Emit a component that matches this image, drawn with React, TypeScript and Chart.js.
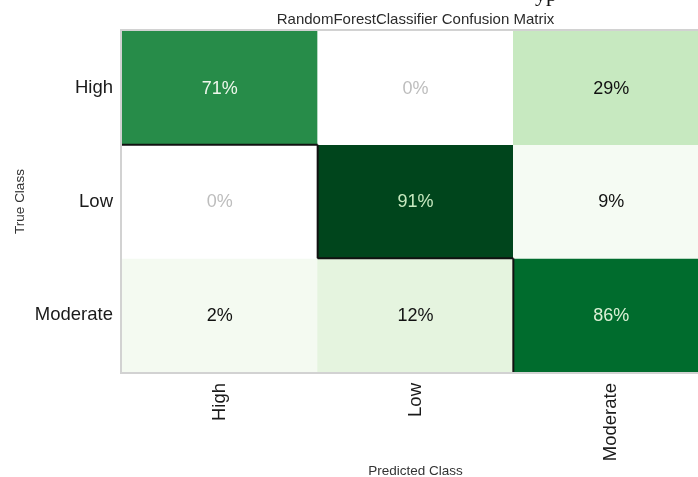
import { useEffect, useRef } from "react";
import { Chart, registerables } from "chart.js";

Chart.register(...registerables);

// ---- data ----
const classLabels = ["High", "Low", "Moderate"];
const highRow = [71, 0, 29];
const lowRow = [0, 91, 9];
const moderateRow = [2, 12, 86];
const rows = [highRow, lowRow, moderateRow];
const titleText = "RandomForestClassifier Confusion Matrix";
const xTitleText = "Predicted Class";
const yTitleText = "True Class";
const fragmentText = "yp";

// ---- styles ----
const cellColors = [
  ["#278c49", "#ffffff", "#c7e9c0"],
  ["#ffffff", "#00451c", "#f5fbf3"],
  ["#f4faf1", "#e5f4df", "#006c2d"],
];
const FONT = "'Liberation Sans', Arial, Helvetica, sans-serif";

function textColor(v: number): string {
  if (v === 0) return "#bdbdbd";
  if (v >= 88) return "#c7e9c0";
  if (v >= 80) return "#dcf1d6";
  if (v >= 60) return "#eef7ec";
  return "#111111";
}

const cellPlugin = {
  id: "cellText",
  afterDatasetsDraw(chart: any) {
    const ctx = chart.ctx;
    const area = chart.chartArea;
    ctx.save();
    // grey frame around the matrix
    ctx.strokeStyle = "#d2d2d2";
    ctx.lineWidth = 2;
    ctx.strokeRect(area.left - 1, area.top - 1, area.right - area.left + 2, area.bottom - area.top + 2);

    const n = classLabels.length;
    chart.data.datasets.forEach((_ds: any, r: number) => {
      const meta = chart.getDatasetMeta(r);
      meta.data.forEach((el: any, c: number) => {
        const { x, y, base, width } = el.getProps(["x", "y", "base", "width"], true);
        const top = Math.min(y, base);
        const bottom = Math.max(y, base);
        const left = x - width / 2;
        const right = x + width / 2;
        const cy = (top + bottom) / 2;
        const v = rows[r][c];
        if (r === c) {
          ctx.strokeStyle = "#111111";
          ctx.lineWidth = 2;
          ctx.beginPath();
          if (c > 0) {
            ctx.moveTo(left, top);
            ctx.lineTo(left, bottom);
          }
          if (r < n - 1) {
            ctx.moveTo(left, bottom);
            ctx.lineTo(right, bottom);
          }
          ctx.stroke();
        }
        ctx.fillStyle = textColor(v);
        ctx.font = `18px ${FONT}`;
        ctx.textAlign = "center";
        ctx.textBaseline = "middle";
        ctx.fillText(`${v}%`, x, cy + 1);
      });
    });
    ctx.restore();
  },
  afterDraw(chart: any) {
    const ctx = chart.ctx;
    ctx.save();
    ctx.fillStyle = "#111";
    ctx.font = `22px 'Liberation Serif', 'Times New Roman', serif`;
    ctx.textAlign = "left";
    ctx.textBaseline = "alphabetic";
    ctx.fillText(fragmentText, 535, 1);
    ctx.restore();
  },
};

export default function App() {
  const ref = useRef<HTMLCanvasElement | null>(null);

  useEffect(() => {
    if (!ref.current) return;
    const datasets = rows.map((row, r) => ({
      label: classLabels[r],
      data: row.map(() => [r, r + 1]),
      backgroundColor: cellColors[r],
      borderWidth: 0,
      barPercentage: 1,
      categoryPercentage: 1,
      grouped: false,
    }));

    const chart = new Chart(ref.current, {
      type: "bar",
      data: { labels: classLabels, datasets: datasets as any },
      plugins: [cellPlugin],
      options: {
        animation: false,
        responsive: false,
        devicePixelRatio: 1,
        layout: { padding: { left: 0, right: 11, top: 0, bottom: 0 } },
        plugins: {
          legend: { display: false },
          tooltip: { enabled: false },
          title: {
            display: true,
            text: titleText,
            fullSize: false,
            color: "#2b2b2b",
            font: { family: FONT, size: 15, weight: "normal" },
            padding: { top: 11, bottom: 2 },
          },
        },
        scales: {
          x: {
            type: "category",
            offset: true,
            grid: { display: false, drawTicks: false },
            border: { display: false },
            ticks: {
              autoSkip: false,
              minRotation: 90,
              maxRotation: 90,
              padding: 11,
              color: "#1a1a1a",
              font: { family: FONT, size: 18.5 },
            },
            title: {
              display: true,
              text: xTitleText,
              color: "#333333",
              font: { family: FONT, size: 13.5 },
              padding: { top: 0, bottom: -2 },
            },
            afterFit: (s: any) => {
              s.height = 105;
            },
          },
          y: {
            type: "linear",
            min: 0,
            max: classLabels.length,
            reverse: true,
            afterBuildTicks: (s: any) => {
              s.ticks = classLabels.map((_, i) => ({ value: i + 0.5 }));
            },
            grid: { display: false, drawTicks: false },
            border: { display: false },
            ticks: {
              padding: 9,
              color: "#1a1a1a",
              font: { family: FONT, size: 18.5 },
              callback: (v: any) => classLabels[Math.floor(Number(v))],
            },
            title: {
              display: true,
              text: yTitleText,
              color: "#333333",
              font: { family: FONT, size: 13.5 },
              padding: { top: 12, bottom: 0 },
            },
            afterFit: (s: any) => {
              s.width = 122;
            },
          },
        },
      } as any,
    });
    return () => chart.destroy();
  }, []);

  return (
    <div
      style={{
        position: "fixed",
        left: 0,
        top: 0,
        width: 698,
        height: 477,
        overflow: "hidden",
        background: "#ffffff",
      }}
    >
      <canvas ref={ref} width={720} height={477} style={{ display: "block", width: 720, height: 477 }} />
    </div>
  );
}
